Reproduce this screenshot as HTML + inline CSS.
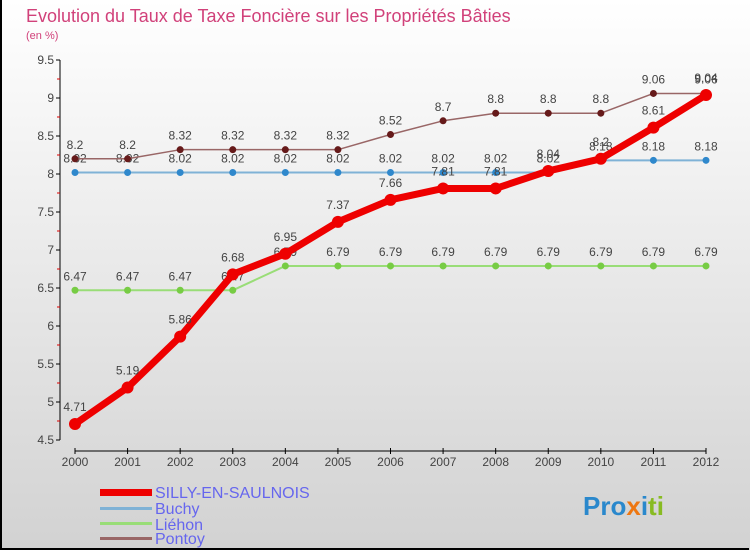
<!DOCTYPE html>
<html><head><meta charset="utf-8"><style>
body{margin:0;width:750px;height:550px;overflow:hidden;font-family:"Liberation Sans",sans-serif}
</style></head><body>
<svg id="c" width="750" height="550" xmlns="http://www.w3.org/2000/svg" font-family="Liberation Sans, sans-serif">
<defs><linearGradient id="bg" x1="0" y1="0" x2="0" y2="1"><stop offset="0" stop-color="#ffffff"/><stop offset="1" stop-color="#d2d2d2"/></linearGradient></defs>
<rect x="0" y="0" width="750" height="550" fill="url(#bg)"/>
<path d="M1,0V549H749" fill="none" stroke="#000" stroke-width="2"/>
<text x="26" y="22" font-size="18" fill="#d1417a">Evolution du Taux de Taxe Foncière sur les Propriétés Bâties</text>
<text x="26" y="39" font-size="11" fill="#d1417a">(en %)</text>
<g id="axes"></g><g id="series"></g>
<g font-size="16" fill="#6666ee">
<rect x="100" y="489" width="52" height="7" fill="#ee0000"/><text x="155" y="498">SILLY-EN-SAULNOIS</text>
<rect x="100" y="507" width="52" height="3" fill="#7fb2d6"/><text x="155" y="514">Buchy</text>
<rect x="100" y="522" width="52" height="3" fill="#99dd77"/><text x="155" y="530">Liéhon</text>
<rect x="100" y="537" width="52" height="3" fill="#996666"/><text x="155" y="544">Pontoy</text>
</g>
<g font-size="26" font-weight="bold">
<text x="583" y="515"><tspan fill="#2a88cc">Pro</tspan><tspan fill="#ee7711">x</tspan><tspan fill="#2a88cc">i</tspan><tspan fill="#88bb22">ti</tspan></text>
</g>
</svg>
<script>
const years=[2000,2001,2002,2003,2004,2005,2006,2007,2008,2009,2010,2011,2012];
const silly=[4.71,5.19,5.86,6.68,6.95,7.37,7.66,7.81,7.81,8.04,8.2,8.61,9.04];
const buchy=[8.02,8.02,8.02,8.02,8.02,8.02,8.02,8.02,8.02,8.02,8.18,8.18,8.18];
const liehon=[6.47,6.47,6.47,6.47,6.79,6.79,6.79,6.79,6.79,6.79,6.79,6.79,6.79];
const pontoy=[8.2,8.2,8.32,8.32,8.32,8.32,8.52,8.7,8.8,8.8,8.8,9.06,9.06];
const yTicks=[4.5,5,5.5,6,6.5,7,7.5,8,8.5,9,9.5];
const NS='http://www.w3.org/2000/svg';
const X=i=>75+i*(706-75)/12, Y=v=>440-(v-4.5)*76;
function mk(t,a,p){const e=document.createElementNS(NS,t);for(const k in a)e.setAttribute(k,a[k]);p.appendChild(e);return e;}
const ax=document.getElementById('axes');
let l=mk('line',{x1:60,y1:Y(9.5),x2:60,y2:Y(4.5),stroke:'#000'},ax);

yTicks.forEach((v,k)=>{mk('line',{x1:56,x2:60,y1:Y(v),y2:Y(v),stroke:'#000'},ax);
 if(k<yTicks.length-1)mk('line',{x1:57,x2:60,y1:Y(v+0.25),y2:Y(v+0.25),stroke:'#d00'},ax);
 const t=mk('text',{x:54,y:Y(v)+4,'text-anchor':'end','font-size':12,fill:'#444'},ax);t.textContent=v;
 });
l=mk('line',{x1:X(0),y1:451,x2:X(12),y2:451,stroke:'#000'},ax);

years.forEach((y,i)=>{mk('line',{x1:X(i),x2:X(i),y1:448,y2:454,stroke:'#000'},ax);
 const t=mk('text',{x:X(i),y:466,'text-anchor':'middle','font-size':12,fill:'#444'},ax);t.textContent=y;
 });
const sg=document.getElementById('series');
function draw(name,vals,col,w,r,dot,dy){
 const g=mk('g',{},sg);
 mk('polyline',{points:vals.map((v,i)=>X(i)+','+Y(v)).join(' '),fill:'none',stroke:col,'stroke-width':w,'stroke-linejoin':'round'},g);
 vals.forEach((v,i)=>{const c=mk('circle',{cx:X(i),cy:Y(v),r:r,fill:dot},g);
  
  const t=mk('text',{x:X(i),y:Y(v)-dy,'text-anchor':'middle','font-size':12,fill:'#444'},g);t.textContent=v;
  });
}
draw('liehon-series',liehon,'#99dd77',2,3.5,'#77cc44',10);
draw('buchy-series',buchy,'#7fb2d6',2,3.5,'#2f88cc',10);
draw('pontoy-series',pontoy,'#996666',1.5,3.5,'#661a1a',10);
draw('silly-series',silly,'#ee0000',7,6,'#ee0000',13);
</script>
</body></html>
